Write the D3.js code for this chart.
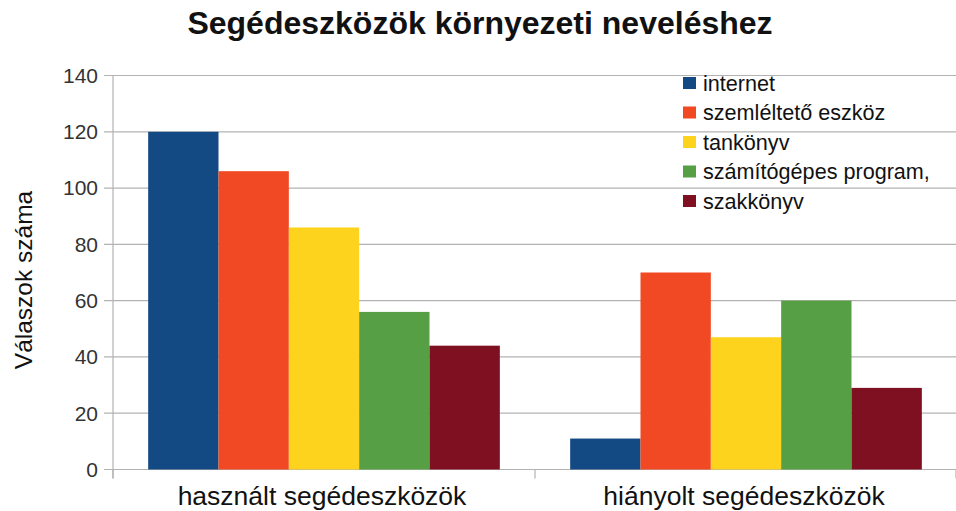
<!DOCTYPE html>
<html><head><meta charset="utf-8">
<script src="https://cdn.jsdelivr.net/npm/d3@7"></script>
<style>body{margin:0;background:#fff}svg{display:block}</style>
</head><body>
<svg id="c" width="956" height="511"></svg>
<script>
const title = "Segédeszközök környezeti neveléshez";
const yTitle = "Válaszok száma";
const categories = ["használt segédeszközök", "hiányolt segédeszközök"];
const seriesNames = ["internet", "szemléltető eszköz", "tankönyv", "számítógépes program,", "szakkönyv"];
const seriesColors = ["#134a84", "#f04923", "#fdd31e", "#569f44", "#7e1022"];
const internet = [120, 11];
const szemlelteto = [106, 70];
const tankonyv = [86, 47];
const szamitogepes = [56, 60];
const szakkonyv = [44, 29];
const yTicks = [0, 20, 40, 60, 80, 100, 120, 140];

const values = [internet, szemlelteto, tankonyv, szamitogepes, szakkonyv];
const svg = d3.select("#c");
const font = "'Liberation Sans', Arial, sans-serif";
const L = 113, R = 957, T = 75.5, B = 469.5;

const x0 = d3.scaleBand().domain(categories).range([L, R]).paddingInner(0).paddingOuter(0);
const x1 = d3.scaleBand().domain(seriesNames).range([0, x0.bandwidth()]).paddingOuter(0.5).paddingInner(0);
const y = d3.scaleLinear().domain([0, 140]).range([B, T]);

// gridlines
svg.append("g").selectAll("line").data(yTicks).join("line")
  .attr("x1", L - 9).attr("x2", R).attr("y1", d => y(d)).attr("y2", d => y(d))
  .attr("stroke", "#b3b3b3").attr("stroke-width", 1.2);

// y axis line
svg.append("line").attr("x1", L).attr("x2", L).attr("y1", T).attr("y2", B + 9)
  .attr("stroke", "#b3b3b3").attr("stroke-width", 1.2);
// category ticks
svg.append("g").selectAll("line").data([L, L + x0.bandwidth(), R - 1]).join("line")
  .attr("x1", d => d).attr("x2", d => d).attr("y1", B).attr("y2", B + 9)
  .attr("stroke", "#b3b3b3").attr("stroke-width", 1.2);

// y tick labels
svg.append("g").selectAll("text").data(yTicks).join("text")
  .attr("x", 98).attr("y", d => y(d)).attr("dy", "0.35em")
  .attr("text-anchor", "end").attr("font-family", font).attr("font-size", 21)
  .attr("fill", "#333").text(d => d);

// bars
const g = svg.append("g");
categories.forEach((c, ci) => {
  seriesNames.forEach((s, si) => {
    const v = values[si][ci];
    g.append("rect")
      .attr("x", x0(c) + x1(s)).attr("width", x1.bandwidth())
      .attr("y", y(v)).attr("height", y(0) - y(v))
      .attr("fill", seriesColors[si]);
  });
});

// category labels
svg.append("g").selectAll("text").data(categories).join("text")
  .attr("x", d => x0(d) + x0.bandwidth() / 2 - 2).attr("y", 505)
  .attr("text-anchor", "middle").attr("font-family", font).attr("font-size", 26.5)
  .attr("fill", "#111").text(d => d);

// title
svg.append("text").attr("x", 480).attr("y", 34).attr("text-anchor", "middle")
  .attr("font-family", font).attr("font-size", 32).attr("font-weight", "bold")
  .attr("fill", "#111").text(title);

// y title
svg.append("text").attr("transform", "translate(32,280) rotate(-90)")
  .attr("text-anchor", "middle").attr("font-family", font).attr("font-size", 24.5)
  .attr("fill", "#111").text(yTitle);

// legend
const lg = svg.append("g");
seriesNames.forEach((s, i) => {
  const cy = 83 + i * 29.5;
  lg.append("rect").attr("x", 683).attr("y", cy - 6).attr("width", 13).attr("height", 12)
    .attr("fill", seriesColors[i]);
  lg.append("text").attr("x", 703).attr("y", cy).attr("dy", "0.35em")
    .attr("font-family", font).attr("font-size", 21.6).attr("fill", "#111").text(s);
});
</script>
</body></html>
